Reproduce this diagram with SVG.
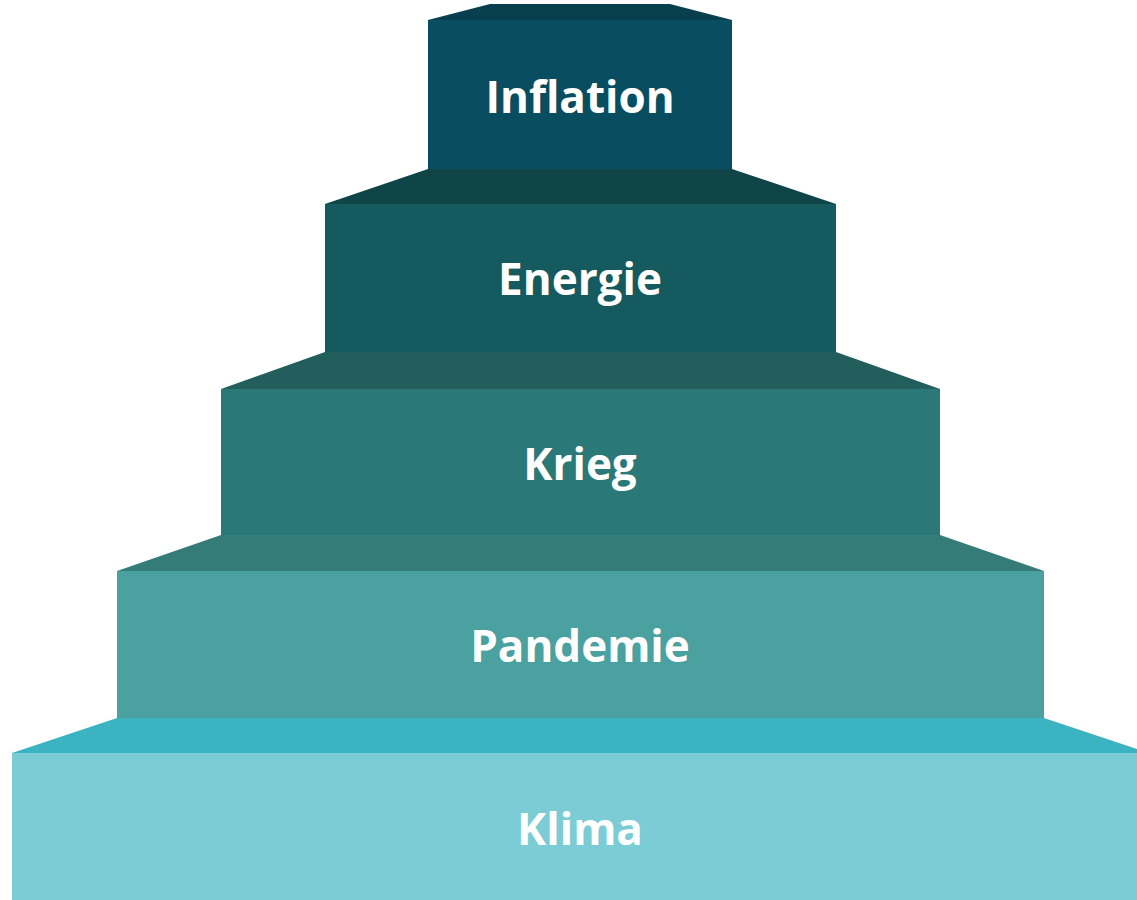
<svg xmlns="http://www.w3.org/2000/svg" width="1137" height="900" viewBox="0 0 1137 900">
  <style>
    .lbl { font-family: "Open Sans", "Liberation Sans", sans-serif; font-weight: 700; font-size: 44px; fill: #ffffff; text-anchor: middle; }
  </style>
  <rect x="0" y="0" width="1137" height="900" fill="#ffffff"/>
  <g id="klima">
    <polygon points="117,718 1044,718 1149,753 12,753" fill="#3CB3C1"/>
    <rect x="12" y="753" width="1137" height="147" fill="#7BCCD5"/>
    <text class="lbl" x="580" y="845">Klima</text>
  </g>
  <g id="pandemie">
    <polygon points="221,535 940,535 1044,571 117,571" fill="#357C78"/>
    <rect x="117" y="571" width="927" height="147" fill="#4AA19F"/>
    <text class="lbl" x="580" y="662">Pandemie</text>
  </g>
  <g id="krieg">
    <polygon points="325,352 836,352 940,389 221,389" fill="#215E5C"/>
    <rect x="221" y="389" width="719" height="146" fill="#2A7877"/>
    <text class="lbl" x="580" y="480">Krieg</text>
  </g>
  <g id="energie">
    <polygon points="428,169 732,169 836,204 325,204" fill="#104548"/>
    <rect x="325" y="204" width="511" height="148" fill="#155A5E"/>
    <text class="lbl" x="580" y="295">Energie</text>
  </g>
  <g id="inflation">
    <polygon points="490,4 670,4 732,20 428,20" fill="#073F4E"/>
    <rect x="428" y="20" width="304" height="149" fill="#084E60"/>
    <text class="lbl" x="580" y="113">Inflation</text>
  </g>
</svg>
